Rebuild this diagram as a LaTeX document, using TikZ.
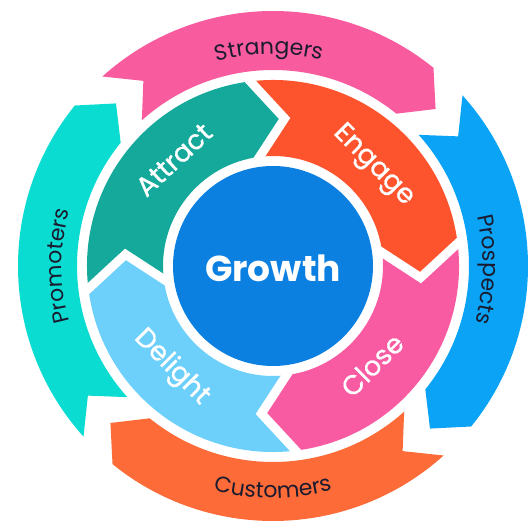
\documentclass[tikz,border=0pt]{standalone}
\usepackage{fontspec}
\setmainfont{Poppins}
\newfontfamily\popmed{Poppins}[FakeBold=0.9]
\usetikzlibrary{calc,decorations.text}
\definecolor{cStr}{HTML}{F85C9E}
\definecolor{cPro}{HTML}{0AA3F5}
\definecolor{cCus}{HTML}{FC6B38}
\definecolor{cProm}{HTML}{0BDCD2}
\definecolor{cAtt}{HTML}{14A99B}
\definecolor{cEng}{HTML}{FE542E}
\definecolor{cClo}{HTML}{F95BA3}
\definecolor{cDel}{HTML}{6DD0FB}
\definecolor{cGro}{HTML}{0B80E0}
\definecolor{cInk}{HTML}{1B1B2F}
\newcommand\OuterArrow[3]{%
  \fill[#1] (#2:255) arc[start angle=#2, end angle=#3, radius=255]
    -- ({#3-7}:226) -- (#3:196) arc[start angle=#3, end angle=#2, radius=196]
    -- ({#2-7}:226) -- cycle;}
\newcommand\InnerArrow[3]{%
  \fill[#1] (#2:186) arc[start angle=#2, end angle=#3, radius=186]
    -- ({#3-11.5}:148) -- (#3:110) arc[start angle=#3, end angle=#2, radius=110]
    -- ({#2-11.5}:148) -- cycle;}
\newcommand\InnerGap[1]{%
  \coordinate (ga) at (#1:186);
  \coordinate (gt) at ({#1-11.5}:148);
  \coordinate (gb) at (#1:110);
  \draw[white, line width=9pt, line join=miter]
    ($(gt)!1.12!(ga)$) -- (gt) -- ($(gt)!1.12!(gb)$);}
\newcommand\OutLab{\color{cInk}\fontsize{22}{24}\selectfont}
\tikzset{
  curvedtext/.style={decorate, decoration={text along path, text align=center, text={#1}}},
  inlabel/.style={text=white, font={\popmed\fontsize{27}{30}\selectfont}, anchor=base, inner sep=0pt}
}
\begin{document}
\begin{tikzpicture}[x=1pt,y=1pt]
\useasboundingbox (0,0) rectangle (532,532);
\fill[white] (0,0) rectangle (532,532);
\begin{scope}[shift={(273,266)}]
  % outer ring
  \OuterArrow{cStr}{132}{51}
  \OuterArrow{cPro}{42}{-39}
  \OuterArrow{cCus}{-48}{-129}
  \OuterArrow{cProm}{-138}{-219}
  % inner ring
  \InnerArrow{cAtt}{187}{97}
  \InnerArrow{cEng}{97}{7}
  \InnerArrow{cClo}{7}{-83}
  \InnerArrow{cDel}{-83}{-173}
  \InnerGap{97}
  \InnerGap{7}
  \InnerGap{-83}
  \InnerGap{187}
  % centre
  \fill[cGro] (0,0) circle (100);
  \node[text=white, font={\fontsize{36}{40}\selectfont\bfseries}] (growth) at (0,-2) {Growth};
  % outer labels
  \path[curvedtext={|\OutLab|Strangers}] (121:212) arc[start angle=121, end angle=61, radius=212];
  \path[curvedtext={|\OutLab|Prospects}] (29:210) arc[start angle=29, end angle=-31, radius=210];
  \path[curvedtext={|\OutLab|Customers}] (-120:232) arc[start angle=-120, end angle=-60, radius=232];
  \path[curvedtext={|\OutLab|Promoters}] (210:211) arc[start angle=210, end angle=150, radius=211];
  % inner labels
  \node[inlabel, rotate=43] (attract) at (133:136) {Attract};
  \node[inlabel, rotate=-45] (engage) at (45:136) {Engage};
  \node[inlabel, rotate=45] (close) at (-45:150) {Close};
  \node[inlabel, rotate=-45] (delight) at (-135:150) {Delight};
\end{scope}
\end{tikzpicture}
\end{document}
